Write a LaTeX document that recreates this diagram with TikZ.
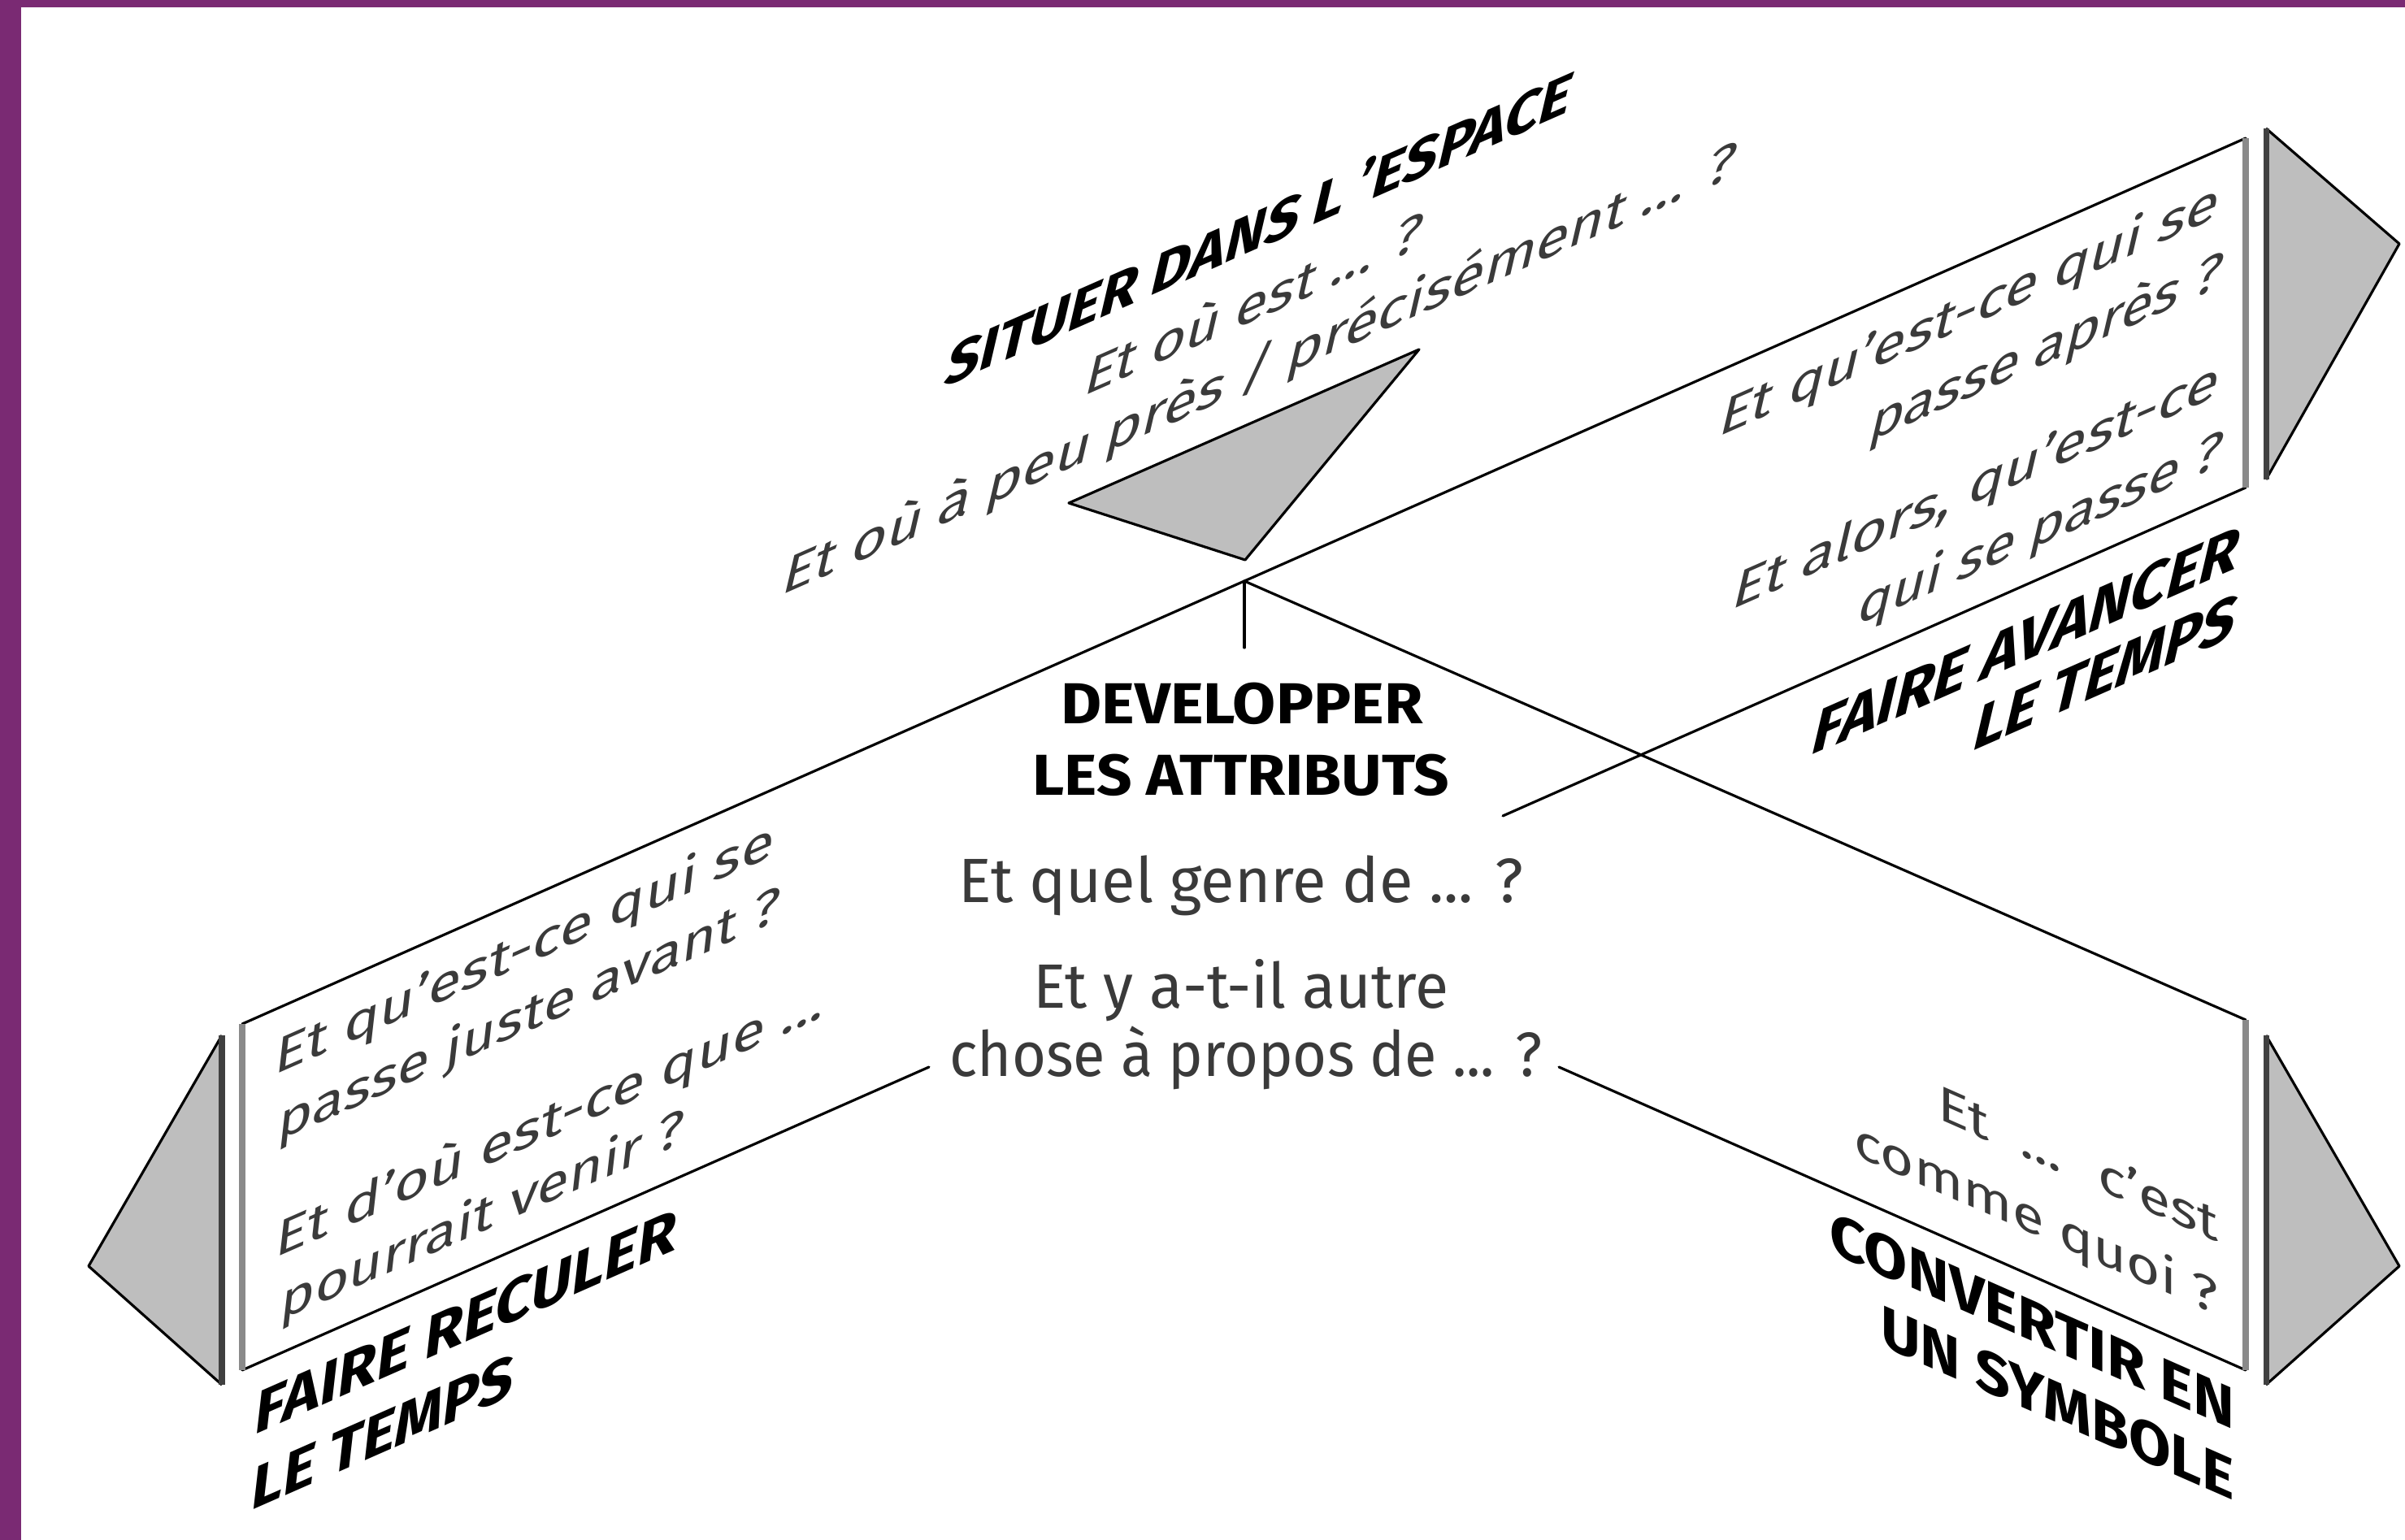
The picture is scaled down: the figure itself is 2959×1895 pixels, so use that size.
\documentclass[tikz,border=0pt]{standalone}
\usepackage{fontspec}
\usepackage{graphicx}
\setmainfont{Fira Sans}
\definecolor{frame}{HTML}{7A2A73}
\definecolor{tri}{HTML}{BEBEBE}
\definecolor{edgegray}{HTML}{8A8A8A}
\definecolor{txt}{HTML}{3A3A3A}
\newdimen\pxu \pxu=0.01cm
\newcommand\fw[2]{\resizebox{#1\pxu}{\height}{#2}}
\newcommand\fsz[1]{\fontsize{#1}{#1}\selectfont}
\tikzset{
  ln/.style={line width=0.9pt, black, line cap=round, line join=round},
  boxedge/.style={line width=2.2pt, edgegray},
  triside/.style={line width=2pt, black!75},
  triline/.style={line width=0.9pt, black, line join=round},
  reg/.style={inner sep=0pt, text=txt, font=\fsz{17.3}},
  regc/.style={inner sep=0pt, text=txt, font=\fsz{21.9}},
  bld/.style={inner sep=0pt, text=black, font=\fsz{20.6}\bfseries},
  bldc/.style={inner sep=0pt, text=black, font=\fsz{20.2}\bfseries},
  upsl/.style={yslant=0.44, xslant=0.26, transform shape},
  llsl/.style={yslant=0.44, xslant=0.12, transform shape},
  lrsl/.style={yslant=-0.44, transform shape},
}
\begin{document}
\begin{tikzpicture}[x=0.01cm, y=-0.01cm]
\useasboundingbox (0,0) rectangle (2959,1895);
% purple frame
\fill[frame] (0,0) rectangle (26,1895);
\fill[frame] (0,0) rectangle (2959,9);

% coordinates
\coordinate (LT) at (298,1260);
\coordinate (LB) at (298,1686);
\coordinate (RT) at (2763,170);
\coordinate (RB) at (2763,600);
\coordinate (QT) at (2763,1255);
\coordinate (QB) at (2763,1686);
\coordinate (apex) at (1531,715);
\coordinate (stub) at (1531,797);
\coordinate (Cend) at (1143,1313);
\coordinate (Dend) at (1849,1004);
\coordinate (Eend) at (1918,1313);

% triangles
\coordinate (ta) at (1315,619);
\coordinate (tb) at (1746,430);
\coordinate (tc) at (1532,689);
\fill[tri] (ta) -- (tb) -- (tc) -- cycle;
\draw[triline] (ta) -- (tb) -- (tc) -- cycle;

\coordinate (ura) at (2788,158);
\coordinate (urb) at (2952,300);
\coordinate (urc) at (2788,590);
\fill[tri] (ura) -- (urb) -- (urc) -- cycle;
\draw[triline] (ura) -- (urb) -- (urc);
\draw[triside] (ura) -- (urc);

\coordinate (lra) at (2788,1274);
\coordinate (lrb) at (2952,1558);
\coordinate (lrc) at (2788,1704);
\fill[tri] (lra) -- (lrb) -- (lrc) -- cycle;
\draw[triline] (lra) -- (lrb) -- (lrc);
\draw[triside] (lra) -- (lrc);

\coordinate (lla) at (273,1274);
\coordinate (llb) at (109,1558);
\coordinate (llc) at (273,1704);
\fill[tri] (lla) -- (llb) -- (llc) -- cycle;
\draw[triline] (lla) -- (llb) -- (llc);
\draw[triside] (lla) -- (llc);

% band lines
\draw[ln] (LT) -- (apex) -- (RT);
\draw[ln] (apex) -- (QT);
\draw[ln] (apex) -- (stub);
\draw[ln] (LB) -- (Cend);
\draw[ln] (RB) -- (Dend);
\draw[ln] (Eend) -- (QB);
% box vertical edges
\draw[boxedge] (LT) -- (LB);
\draw[boxedge] (RT) -- (RB);
\draw[boxedge] (QT) -- (QB);

% upper centre texts
\node[bld, font=\fsz{19}\bfseries, upsl, anchor=base] (sit) at (1544,308) {\fw{769}{SITUER DANS L 'ESPACE}};
\node[reg, upsl, anchor=base] (ou1) at (1538,397) {\fw{414}{Et où est ... ?}};
\node[reg, upsl, anchor=base] (ou2) at (1545,476) {\fw{1170}{Et où à peu près / précisément ... ?}};

% upper right texts
\node[reg, upsl, anchor=base east] (ur1) at (2727,268) {\fw{614}{Et qu'est-ce qui se}};
\node[reg, upsl, anchor=base east] (ur2) at (2730,354) {\fw{432}{passe après ?}};
\node[reg, upsl, anchor=base east] (ur3) at (2727,488) {\fw{598}{Et alors, qu'est-ce}};
\node[reg, upsl, anchor=base east] (ur4) at (2730,574) {\fw{447}{qui se passe ?}};
\node[bld, upsl, anchor=base east] (ur5) at (2750,700) {\fw{524}{FAIRE AVANCER}};
\node[bld, upsl, anchor=base east] (ur6) at (2746,784) {\fw{321}{LE TEMPS}};

% lower left texts
\node[reg, llsl, anchor=base west] (ll1) at (336,1324) {\fw{614}{Et qu'est-ce qui se}};
\node[reg, llsl, anchor=base west] (ll2) at (340,1405) {\fw{617}{passe juste avant ?}};
\node[reg, llsl, anchor=base west] (ll3) at (337,1549) {\fw{675}{Et d'où est-ce que ...}};
\node[reg, llsl, anchor=base west] (ll4) at (343,1626) {\fw{496}{pourrait venir ?}};
\node[bld, llsl, anchor=base west] (ll5) at (311,1767) {\fw{518}{FAIRE RECULER}};
\node[bld, llsl, anchor=base west] (ll6) at (307,1860) {\fw{322}{LE TEMPS}};

% lower right texts
\node[reg, lrsl, anchor=base east] (lr1) at (2730,1529) {\fw{345}{Et \ ... \ c'est}};
\node[reg, lrsl, anchor=base east] (lr2) at (2730,1619) {\fw{448}{comme quoi ?}};
\node[bld, lrsl, anchor=base east] (lr3) at (2750,1760) {\fw{498}{CONVERTIR EN}};
\node[bld, lrsl, anchor=base east] (lr4) at (2749,1847) {\fw{434}{UN SYMBOLE}};

% centre texts
\node[bldc, anchor=base] (c1) at (1528,891) {\fw{445}{DEVELOPPER}};
\node[bldc, anchor=base] (c2) at (1527,979) {\fw{513}{LES ATTRIBUTS}};
\node[regc, anchor=base] (c3) at (1527,1111) {\fw{695}{Et quel genre de ... ?}};
\node[regc, anchor=base] (c4) at (1527,1241) {\fw{511}{Et y a-t-il autre}};
\node[regc, anchor=base] (c5) at (1533,1325) {\fw{729}{chose à propos de ... ?}};
\end{tikzpicture}
\end{document}
